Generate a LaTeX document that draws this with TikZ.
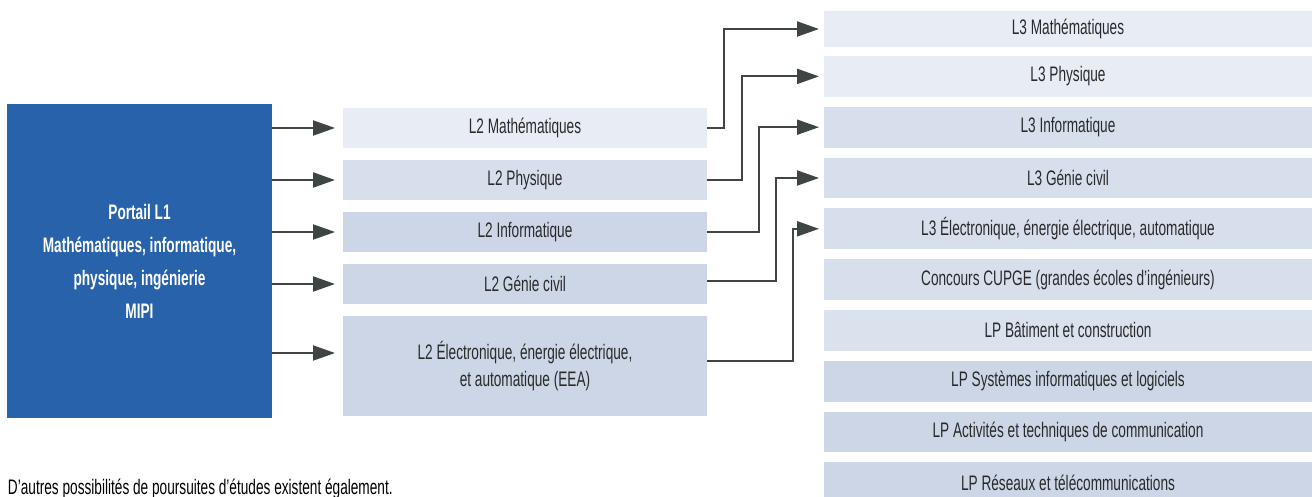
\documentclass[tikz,border=0pt]{standalone}
\usepackage{fontspec}
\setmainfont{Liberation Sans}[FakeStretch=0.65]
\usetikzlibrary{positioning,arrows.meta}
\definecolor{mipiblue}{HTML}{2862AA}
\definecolor{boxlight}{HTML}{E8EDF5}
\definecolor{boxmid}{HTML}{D7DFEC}
\definecolor{boxdark}{HTML}{CCD6E7}
\definecolor{arrowgrey}{HTML}{3E4543}
\definecolor{textgrey}{HTML}{2A2A2A}

\begin{document}
\begin{tikzpicture}[
  every node/.style={font=\fontsize{10.5}{13.5}\selectfont, text=textgrey, outer sep=0pt},
  lbox/.style={fill=#1, minimum width=182pt, minimum height=20pt, inner sep=0pt, align=center},
  rbox/.style={fill=#1, minimum width=244pt, minimum height=20.4pt, inner sep=0pt, align=center},
  link/.style={color=arrowgrey, line width=1pt, -{Triangle[length=11pt,width=7.5pt]}},
  node distance=5pt
]
  \clip (0,0) rectangle (656pt,-248.5pt);

  % portail
  \node (L1) [fill=mipiblue, text=white, inner sep=0pt, minimum width=132.5pt, minimum height=157pt,
    align=center, font=\fontsize{10.5}{16.5}\selectfont\bfseries, anchor=north west] at (3.5pt,-52pt)
    {Portail L1\\Mathématiques, informatique,\\physique, ingénierie\\MIPI};

  % L2
  \node (L2math) [lbox=boxlight, anchor=north west] at (171.5pt,-54pt) {L2 Mathématiques};
  \node (L2phys) [lbox=boxmid, below=6pt of L2math] {L2 Physique};
  \node (L2info) [lbox=boxdark, below=6pt of L2phys] {L2 Informatique};
  \node (L2gc) [lbox=boxdark, below=6pt of L2info] {L2 Génie civil};
  \node (L2eea) [lbox=boxdark, minimum height=50pt, below=6pt of L2gc]
    {L2 Électronique, énergie électrique,\\et automatique (EEA)};

  % L3 et LP
  \node (L3math) [rbox=boxlight, minimum height=18pt, anchor=north west] at (412pt,-5.5pt) {L3 Mathématiques};
  \node (L3phys) [rbox=boxlight, below=4.5pt of L3math] {L3 Physique};
  \node (L3info) [rbox=boxmid, below=of L3phys] {L3 Informatique};
  \node (L3gc) [rbox=boxmid, below=of L3info] {L3 Génie civil};
  \node (L3elec) [rbox=boxmid, below=of L3gc] {L3 Électronique, énergie électrique, automatique};
  \node (cupge) [rbox=boxmid, below=of L3elec] {Concours CUPGE (grandes écoles d'ingénieurs)};
  \node (LPbat) [rbox=boxmid!80!boxlight, below=of cupge] {LP Bâtiment et construction};
  \node (LPsys) [rbox=boxdark, below=of LPbat] {LP Systèmes informatiques et logiciels};
  \node (LPact) [rbox=boxdark, below=of LPsys] {LP Activités et techniques de communication};
  \node (LPres) [rbox=boxdark, below=of LPact] {LP Réseaux et télécommunications};

  \node (note) [anchor=base west, text=black, inner sep=0pt] at (4pt,-247pt)
    {D'autres possibilités de poursuites d'études existent également.};

  \path[link, shorten >=4pt] (L1.east |- L2math) edge (L2math)
            (L1.east |- L2phys) edge (L2phys)
            (L1.east |- L2info) edge (L2info)
            (L1.east |- L2gc) edge (L2gc)
            ([yshift=6.5pt]L2eea.west -| L1.east) edge ([yshift=6.5pt]L2eea.west)
            ;

  \draw[link, shorten >=2.5pt] (L2math.east) -- ++(8.5pt,0) |- (L3math);
  \draw[link, shorten >=2.5pt] (L2phys.east) -- ++(17.5pt,0) |- (L3phys);
  \draw[link, shorten >=2.5pt] (L2info.east) -- ++(26pt,0) |- (L3info);
  \draw[link, shorten >=2.5pt] ([yshift=1.5pt]L2gc.east) -- ++(34.5pt,0) |- (L3gc);
  \draw[link, shorten >=2.5pt] ([yshift=2.5pt]L2eea.east) -- ++(43pt,0) |- (L3elec);
\end{tikzpicture}
\end{document}
